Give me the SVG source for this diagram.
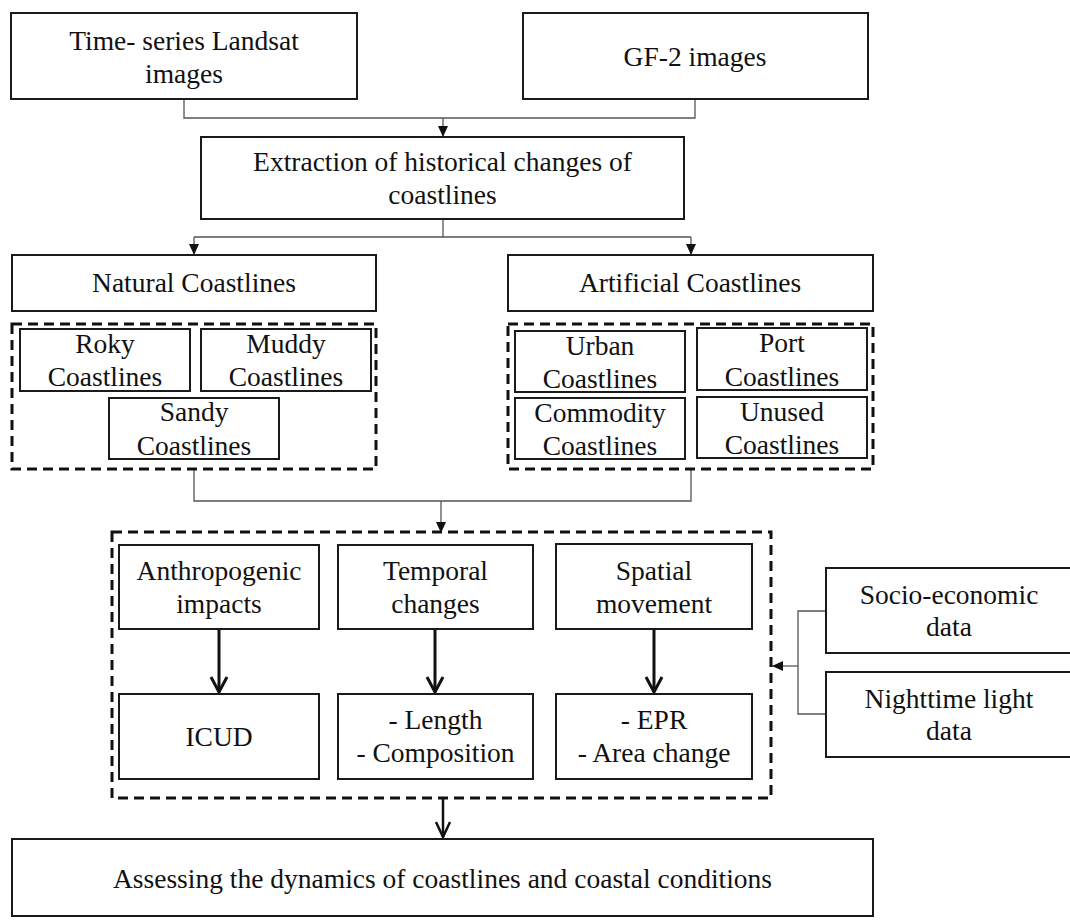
<svg xmlns="http://www.w3.org/2000/svg" width="1070" height="920" viewBox="0 0 1070 920">
<defs>
<style>
.box{fill:#fff;stroke:#1a1a1a;stroke-width:2}
.dash{fill:none;stroke:#111;stroke-width:3;stroke-dasharray:10 6}
.t{font-family:"Liberation Serif","Times New Roman",serif;font-size:27.5px;fill:#111;text-anchor:middle}
.thin{fill:none;stroke:#555;stroke-width:1.3}
.thick{fill:none;stroke:#111;stroke-width:3}
.vee{fill:none;stroke:#111;stroke-width:3;stroke-linejoin:miter}
</style>
<marker id="tri" markerUnits="userSpaceOnUse" markerWidth="11" markerHeight="10" refX="11" refY="5" orient="auto">
<path d="M0,0 L11,5 L0,10 z" fill="#111"/>
</marker>
</defs>
<rect width="1070" height="920" fill="#fff"/>

<g id="connectors">
<path class="thin" d="M184,99 V118 H695 V99"/>
<path class="thin" d="M443,118 V137" marker-end="url(#tri)"/>
<path class="thin" d="M443,219 V237"/>
<path class="thin" d="M194,237 H691"/>
<path class="thin" d="M194,237 V255" marker-end="url(#tri)"/>
<path class="thin" d="M691,237 V255" marker-end="url(#tri)"/>
<path class="thin" d="M194,470 V501 H691 V470"/>
<path class="thin" d="M441,501 V533" marker-end="url(#tri)"/>
<path class="thick" d="M219,629 V692"/>
<path class="vee" d="M211,677 L219,692 L227,677"/>
<path class="thick" d="M435,629 V692"/>
<path class="vee" d="M427,677 L435,692 L443,677"/>
<path class="thick" d="M654,629 V692"/>
<path class="vee" d="M646,677 L654,692 L662,677"/>
<path class="thin" d="M826,611 H798 V714 H826"/>
<path class="thin" d="M798,666 H772" marker-end="url(#tri)"/>
<path class="thick" style="stroke-width:2.5" d="M443,798 V837"/>
<path class="vee" style="stroke-width:2.5" d="M436,822 L443,837 L450,822"/>
</g>

<g id="landsat">
<rect class="box" x="11" y="13" width="346" height="86"/>
<text class="t" x="184" y="50">Time- series Landsat</text>
<text class="t" x="184" y="83">images</text>
</g>
<g id="gf2">
<rect class="box" x="523" y="13" width="345" height="86"/>
<text class="t" x="695" y="66">GF-2 images</text>
</g>
<g id="extraction">
<rect class="box" x="201" y="137" width="483" height="82"/>
<text class="t" x="442.5" y="171">Extraction of historical changes of</text>
<text class="t" x="442.5" y="204">coastlines</text>
</g>
<g id="natural">
<rect class="box" x="12" y="255" width="364" height="56"/>
<text class="t" x="194" y="292">Natural Coastlines</text>
</g>
<g id="artificial">
<rect class="box" x="508" y="255" width="365" height="56"/>
<text class="t" x="690" y="292">Artificial Coastlines</text>
</g>

<g id="natural-group">
<rect class="dash" x="12" y="324" width="364" height="145"/>
</g>
<g id="roky">
<rect class="box" x="20" y="329" width="170" height="62"/>
<text class="t" x="105" y="353">Roky</text>
<text class="t" x="105" y="386">Coastlines</text>
</g>
<g id="muddy">
<rect class="box" x="201" y="329" width="170" height="62"/>
<text class="t" x="286" y="353">Muddy</text>
<text class="t" x="286" y="386">Coastlines</text>
</g>
<g id="sandy">
<rect class="box" x="109" y="398" width="170" height="61"/>
<text class="t" x="194" y="421">Sandy</text>
<text class="t" x="194" y="455">Coastlines</text>
</g>

<g id="artificial-group">
<rect class="dash" x="508" y="324" width="365" height="145"/>
</g>
<g id="urban">
<rect class="box" x="515" y="331" width="170" height="61"/>
<text class="t" x="600" y="355">Urban</text>
<text class="t" x="600" y="388">Coastlines</text>
</g>
<g id="port">
<rect class="box" x="697" y="328" width="170" height="62"/>
<text class="t" x="782" y="352">Port</text>
<text class="t" x="782" y="386">Coastlines</text>
</g>
<g id="commodity">
<rect class="box" x="515" y="398" width="170" height="61"/>
<text class="t" x="600" y="422">Commodity</text>
<text class="t" x="600" y="455">Coastlines</text>
</g>
<g id="unused">
<rect class="box" x="697" y="397" width="170" height="61"/>
<text class="t" x="782" y="421">Unused</text>
<text class="t" x="782" y="454">Coastlines</text>
</g>

<g id="analysis-group">
<rect class="dash" x="112" y="532" width="659" height="266"/>
</g>
<g id="anthropogenic">
<rect class="box" x="119" y="545" width="200" height="84"/>
<text class="t" x="219" y="580">Anthropogenic</text>
<text class="t" x="219" y="613">impacts</text>
</g>
<g id="temporal">
<rect class="box" x="338" y="545" width="195" height="84"/>
<text class="t" x="435.5" y="580">Temporal</text>
<text class="t" x="435.5" y="613">changes</text>
</g>
<g id="spatial">
<rect class="box" x="556" y="544" width="196" height="85"/>
<text class="t" x="654" y="580">Spatial</text>
<text class="t" x="654" y="613">movement</text>
</g>
<g id="icud">
<rect class="box" x="119" y="694" width="200" height="85"/>
<text class="t" x="219" y="746">ICUD</text>
</g>
<g id="length">
<rect class="box" x="338" y="694" width="195" height="85"/>
<text class="t" x="435.5" y="729">- Length</text>
<text class="t" x="435.5" y="762">- Composition</text>
</g>
<g id="epr">
<rect class="box" x="556" y="694" width="196" height="85"/>
<text class="t" x="654" y="729">- EPR</text>
<text class="t" x="654" y="762">- Area change</text>
</g>

<g id="socio">
<rect class="box" x="826" y="568" width="246" height="85"/>
<text class="t" x="949" y="604">Socio-economic</text>
<text class="t" x="949" y="636">data</text>
</g>
<g id="nighttime">
<rect class="box" x="826" y="672" width="246" height="85"/>
<text class="t" x="949" y="708">Nighttime light</text>
<text class="t" x="949" y="740">data</text>
</g>

<g id="assessing">
<rect class="box" x="12" y="839" width="861" height="77"/>
<text class="t" x="442.5" y="888">Assessing the dynamics of coastlines and coastal conditions</text>
</g>
</svg>
